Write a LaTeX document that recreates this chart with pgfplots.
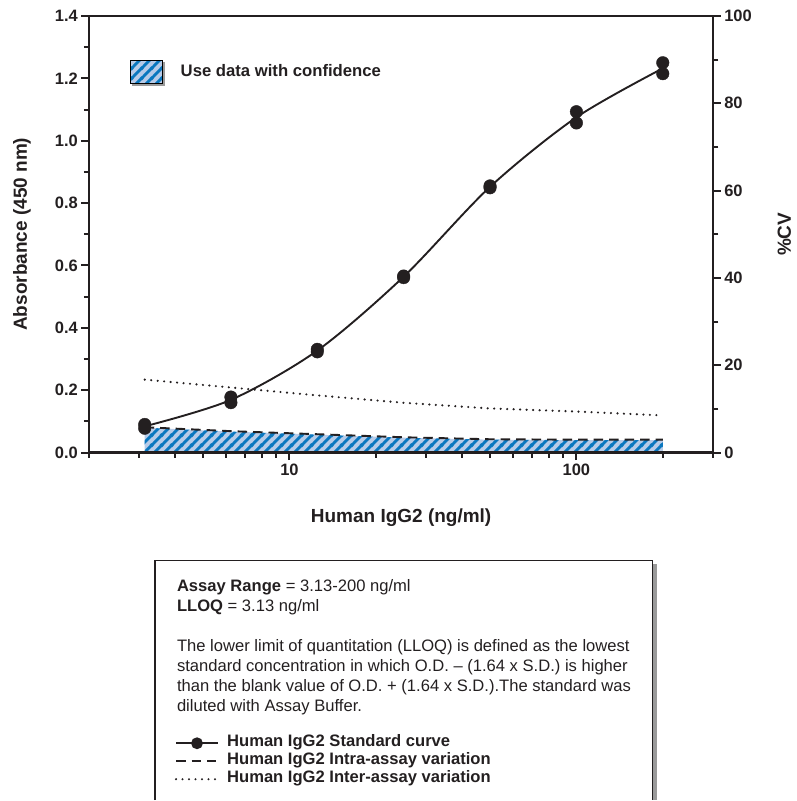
\documentclass[border=0pt]{standalone}
\usepackage{fontspec}
\setmainfont{Liberation Sans}
\usepackage{pgfplots}
\pgfplotsset{compat=1.18}
\usetikzlibrary{patterns}
\pgfkeys{/pgf/number format/assume math mode=true}
\definecolor{ink}{HTML}{231F20}
\definecolor{hatchlight}{HTML}{B7CBE8}
\definecolor{hatchdark}{HTML}{0A77BF}
\definecolor{shadowgray}{HTML}{9A9A9A}
\pgfdeclarepatternformonly{thickstripes}{\pgfpointorigin}{\pgfqpoint{10.2pt}{10.2pt}}{\pgfqpoint{10.2pt}{10.2pt}}{
  \pgfsetlinewidth{3pt}
  \pgfpathmoveto{\pgfqpoint{-1pt}{-1pt}}\pgfpathlineto{\pgfqpoint{11.2pt}{11.2pt}}
  \pgfpathmoveto{\pgfqpoint{-1pt}{9.2pt}}\pgfpathlineto{\pgfqpoint{1pt}{11.2pt}}
  \pgfpathmoveto{\pgfqpoint{9.2pt}{-1pt}}\pgfpathlineto{\pgfqpoint{11.2pt}{1pt}}
  \pgfusepath{stroke}
}
\newcommand{\tickfont}{\fontsize{16.5}{18}\selectfont\bfseries}
\newcommand{\labfont}{\fontsize{19}{22}\selectfont\bfseries}
\newcommand{\boxfont}{\fontsize{16.6}{20}\selectfont}
\newcommand{\legfont}{\fontsize{16.6}{18}\selectfont\bfseries}
\pgfplotsset{
  legend image code/.code={\draw[mark repeat=2,mark phase=2,#1] plot coordinates {(0pt,0pt) (21pt,0pt) (42pt,0pt)};},
}
\begin{document}
\begin{tikzpicture}
% ---- right axis: %CV ----
\begin{axis}[
  scale only axis, width=625pt, height=437pt,
  at={(0pt,0pt)}, anchor=south west,
  xmode=log, xmin=2, xmax=300,
  hide x axis, axis y line*=right,
  ymin=0, ymax=100,
  ytick={0,20,40,60,80,100}, minor ytick={10,30,50,70,90},
  tick align=outside,
  major tick length=7.5pt, minor tick length=5pt,
  tick style={ink, line width=2pt},
  axis line style={ink, line width=2.2pt},
  ticklabel style={font=\tickfont, text=ink},
  label style={font=\labfont, text=ink},
  clip=false,
  ylabel={\%CV},
  ylabel style={at={(axis description cs:1.1136,0.5)}, anchor=center},
  legend cell align=left,
  legend style={draw=none, fill=none, at={(axis description cs:0.1376,-0.6453)}, anchor=north west,
    inner sep=0pt, outer sep=0pt, row sep=0pt,
    nodes={inner sep=0pt, text height=12pt, text depth=6pt, font=\legfont, text=ink},
    /tikz/every odd column/.append style={column sep=8pt}},
]
\addplot[draw=none, fill=hatchlight, forget plot] coordinates {
  (3.13,0) (3.13,5.7) (6.25,4.8) (12.5,4.1) (25,3.4) (50,2.95) (100,2.85) (200,2.85) (200,0)
};
\addplot[draw=none, pattern=thickstripes, pattern color=hatchdark, forget plot] coordinates {
  (3.13,0) (3.13,5.7) (6.25,4.8) (12.5,4.1) (25,3.4) (50,2.95) (100,2.85) (200,2.85) (200,0)
};
\addlegendimage{ink, line width=1.8pt, mark=*, mark size=5pt, mark options={ink, solid}}
\addlegendentry{Human IgG2 Standard curve}
\addplot[ink, line width=1.9pt, dash pattern=on 9.5pt off 6pt, no marks] coordinates {
  (3.13,5.8) (6.25,4.9) (12.5,4.2) (25,3.5) (50,3.05) (100,2.95) (200,2.95)
};
\addlegendentry{Human IgG2 Intra-assay variation}
\addplot[ink, line width=2.4pt, line cap=round, dash pattern=on 0pt off 6.5pt, no marks] coordinates {
  (3.13,16.7) (6.25,14.9) (12.5,13.1) (25,11.4) (50,10.1) (100,9.4) (200,8.5)
};
\addlegendentry{Human IgG2 Inter-assay variation}
\end{axis}
% ---- left axis: absorbance ----
\begin{axis}[
  scale only axis, width=625pt, height=437pt,
  at={(0pt,0pt)}, anchor=south west,
  xmode=log, xmin=2, xmax=300,
  xtick={10,100}, xticklabels={10,100},
  minor xtick={2,3,4,5,6,7,8,9,20,30,40,50,60,70,80,90,200,300},
  tick align=outside,
  major tick length=7.5pt, minor tick length=5pt,
  tick style={ink, line width=2pt},
  axis line style={ink, line width=2.2pt},
  ticklabel style={font=\tickfont, text=ink},
  label style={font=\labfont, text=ink},
  clip=false,
  xtick pos=left, ytick pos=left,
  ymin=0, ymax=1.4,
  ytick={0,0.2,0.4,0.6,0.8,1.0,1.2,1.4},
  minor ytick={0.1,0.3,0.5,0.7,0.9,1.1,1.3},
  yticklabel style={/pgf/number format/.cd, fixed, fixed zerofill, precision=1},
  xlabel={Human IgG2 (ng/ml)},
  xlabel style={at={(axis description cs:0.5,-0.1487)}, anchor=center},
  ylabel={Absorbance (450 nm)},
  ylabel style={at={(axis description cs:-0.1072,0.5)}, anchor=center},
  legend style={draw=none, fill=none, at={(axis description cs:0.0656,0.8993)}, anchor=north west,
    inner sep=0pt, outer sep=0pt,
    nodes={inner sep=0pt, font=\fontsize{16.7}{18}\selectfont\bfseries, text=ink},
    /tikz/every odd column/.append style={column sep=16pt}},
]
\addlegendimage{legend image code/.code={
  \fill[shadowgray] (2.5pt,-14pt) rectangle (34.5pt,9pt);
  \fill[hatchlight] (0pt,-11.5pt) rectangle (32pt,11.5pt);
  \fill[pattern=thickstripes, pattern color=hatchdark] (0pt,-11.5pt) rectangle (32pt,11.5pt);}}
\addlegendentry{Use data with confidence}
\addplot[ink, line width=1.9pt, smooth, no marks, forget plot] coordinates {
  (3.13,0.084) (6.25,0.169) (12.5,0.327) (25,0.564) (50,0.852) (100,1.075) (200,1.232)
};
\addplot[only marks, mark=*, mark size=6.3pt, ink, forget plot] coordinates {
  (3.13,0.090) (3.13,0.078)
  (6.25,0.178) (6.25,0.160)
  (12.5,0.331) (12.5,0.323)
  (25,0.566) (25,0.561)
  (50,0.855) (50,0.849)
  (100,1.093) (100,1.057)
  (200,1.250) (200,1.215)
};
\end{axis}
% ---- info box ----
\fill[shadowgray] (565pt,-112pt) rectangle (569pt,-348pt);
\draw[ink, line width=1.6pt] (66pt,-348pt) -- (66pt,-108pt) -- (564pt,-108pt) -- (564pt,-348pt);
\begin{scope}[every node/.style={anchor=base west, font=\boxfont, text=ink, inner sep=0pt}]
\node at (88pt,-139pt) {\textbf{Assay Range} = 3.13-200 ng/ml};
\node at (88pt,-159pt) {\textbf{LLOQ} = 3.13 ng/ml};
\node at (88pt,-199pt) {The lower limit of quantitation (LLOQ) is defined as the lowest};
\node at (88pt,-219pt) {standard concentration in which O.D. -- (1.64 x S.D.) is higher};
\node at (88pt,-239pt) {than the blank value of O.D. + (1.64 x S.D.).The standard was};
\node at (88pt,-259pt) {diluted with Assay Buffer.};
\end{scope}
\path (-89pt,-348pt) (708pt,453pt);
\end{tikzpicture}
\end{document}
